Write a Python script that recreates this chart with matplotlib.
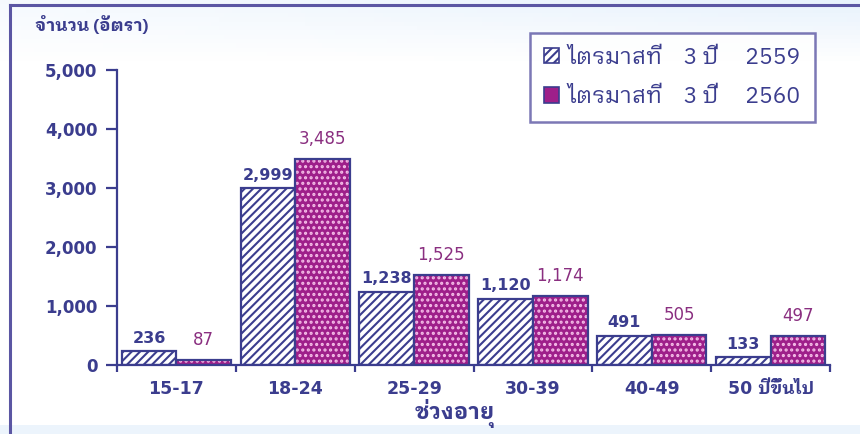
import matplotlib
matplotlib.use('Agg')
import matplotlib.pyplot as plt
import numpy as np
from matplotlib.lines import Line2D
from matplotlib.patches import Patch

plt.rcParams['font.family'] = ['DejaVu Sans', 'IBM Plex Sans Thai Looped']
plt.rcParams['hatch.linewidth'] = 1.5
thai = ['IBM Plex Sans Thai Looped', 'DejaVu Sans']

# data
categories = ['15-17', '18-24', '25-29', '30-39', '40-49', '50 ปีขึ้นไป']
q3_2559 = [236, 2999, 1238, 1120, 491, 133]
q3_2560 = [87, 3485, 1525, 1174, 505, 497]
series_names = ['ไตรมาสที่    3 ปี     2559', 'ไตรมาสที่    3 ปี     2560']
y_ticks = [0, 1000, 2000, 3000, 4000, 5000]

navy = '#3b3d8e'
purple = '#9e1f8a'
dots = '#f5bde8'
label_purple = '#8a2f80'
frame = '#5b56a3'

fig = plt.figure(figsize=(8.6, 4.34), dpi=100)
fig.patch.set_facecolor('white')

# pale blue background wash
bg = fig.add_axes([0, 0, 1, 1], zorder=-5)
yy = np.linspace(0, 1, 100)[:, None]
xx = np.linspace(0, 1, 200)[None, :]
tint = np.clip(1 - yy / 0.14, 0, 1) * (0.4 + 0.6 * xx)
tint = np.maximum(tint, (yy > 0.985) * 0.8)
base = np.array([0.91, 0.95, 0.99])
grad = 1 - tint[..., None] * (1 - base)
bg.imshow(grad, aspect='auto', extent=[0, 1, 0, 1], origin='upper')
bg.set_xlim(0, 1)
bg.set_ylim(0, 1)
bg.axis('off')

# frame lines (top and left only)
fig.add_artist(Line2D([10 / 860, 1], [1 - 5 / 434, 1 - 5 / 434], color=frame, lw=2.2))
fig.add_artist(Line2D([10 / 860, 10 / 860], [0, 1 - 5 / 434], color=frame, lw=2.2))

ax = fig.add_axes([117 / 860, 69 / 434, 713 / 860, 295 / 434])
ax.set_facecolor('none')

x = np.arange(len(categories))
w = 0.46

# 2559: white with navy diagonal hatch
ax.bar(x - w / 2, q3_2559, w, color='white', edgecolor=navy, hatch='////', linewidth=1.6, zorder=2)
# 2560: purple with light dots, navy outline on top
ax.bar(x + w / 2, q3_2560, w, color=purple, edgecolor=dots, hatch='...', linewidth=0, zorder=2)
ax.bar(x + w / 2, q3_2560, w, color='none', edgecolor=navy, linewidth=1.6, zorder=3)

for xi, v in zip(x, q3_2559):
    ax.annotate(f'{v:,}', (xi - w / 2, v), xytext=(0, 4), textcoords='offset points',
                ha='center', va='bottom', fontsize=11.5, fontweight='bold', color=navy)
for xi, v in zip(x, q3_2560):
    ax.annotate(f'{v:,}', (xi + w / 2, v), xytext=(0, 8), textcoords='offset points',
                ha='center', va='bottom', fontsize=12, color=label_purple)

ax.set_xlim(-0.5, len(categories) - 0.5)
ax.set_ylim(0, 5000)
ax.set_yticks(y_ticks)
ax.set_yticklabels([f'{t:,}' for t in y_ticks])
ax.set_xticks(x)
ax.set_xticklabels(categories)
ax.set_xticks(np.arange(len(categories) + 1) - 0.5, minor=True)

for s in ['top', 'right']:
    ax.spines[s].set_visible(False)
for s in ['left', 'bottom']:
    ax.spines[s].set_color(navy)
    ax.spines[s].set_linewidth(1.6)

ax.tick_params(axis='y', direction='out', length=8, width=1.6, color=navy,
               labelcolor=navy, labelsize=12, pad=6)
ax.tick_params(axis='x', which='major', length=0, labelcolor=navy, labelsize=12.5, pad=11)
ax.tick_params(axis='x', which='minor', direction='out', length=5, width=1.6, color=navy)
for lbl in ax.get_yticklabels() + ax.get_xticklabels():
    lbl.set_fontweight('bold')

fig.text(35 / 860, 1 - 25 / 434, 'จำนวน (อัตรา)', ha='left', va='center',
         fontsize=12.5, fontweight='bold', color=navy, family=thai)
fig.text(455 / 860, 1 - 419 / 434, 'ช่วงอายุ', ha='center', va='baseline',
         fontsize=16, fontweight='bold', color=navy, family=thai)

handles = [Patch(facecolor='white', edgecolor=navy, hatch='////', linewidth=1.2),
           Patch(facecolor=purple, edgecolor=navy, linewidth=1.2)]
leg = fig.legend(handles, series_names, loc='upper left',
                 bbox_to_anchor=(530 / 860, 1 - 33 / 434), frameon=True, fancybox=False,
                 prop={'family': thai, 'size': 16.5}, handlelength=0.65, handleheight=0.65,
                 handletextpad=0.4, labelspacing=0.75, borderpad=0.6, borderaxespad=0,
                 labelcolor=navy)
leg.get_frame().set_edgecolor(frame)
leg.get_frame().set_linewidth(1.8)

fig.savefig('out.png', dpi=100)
